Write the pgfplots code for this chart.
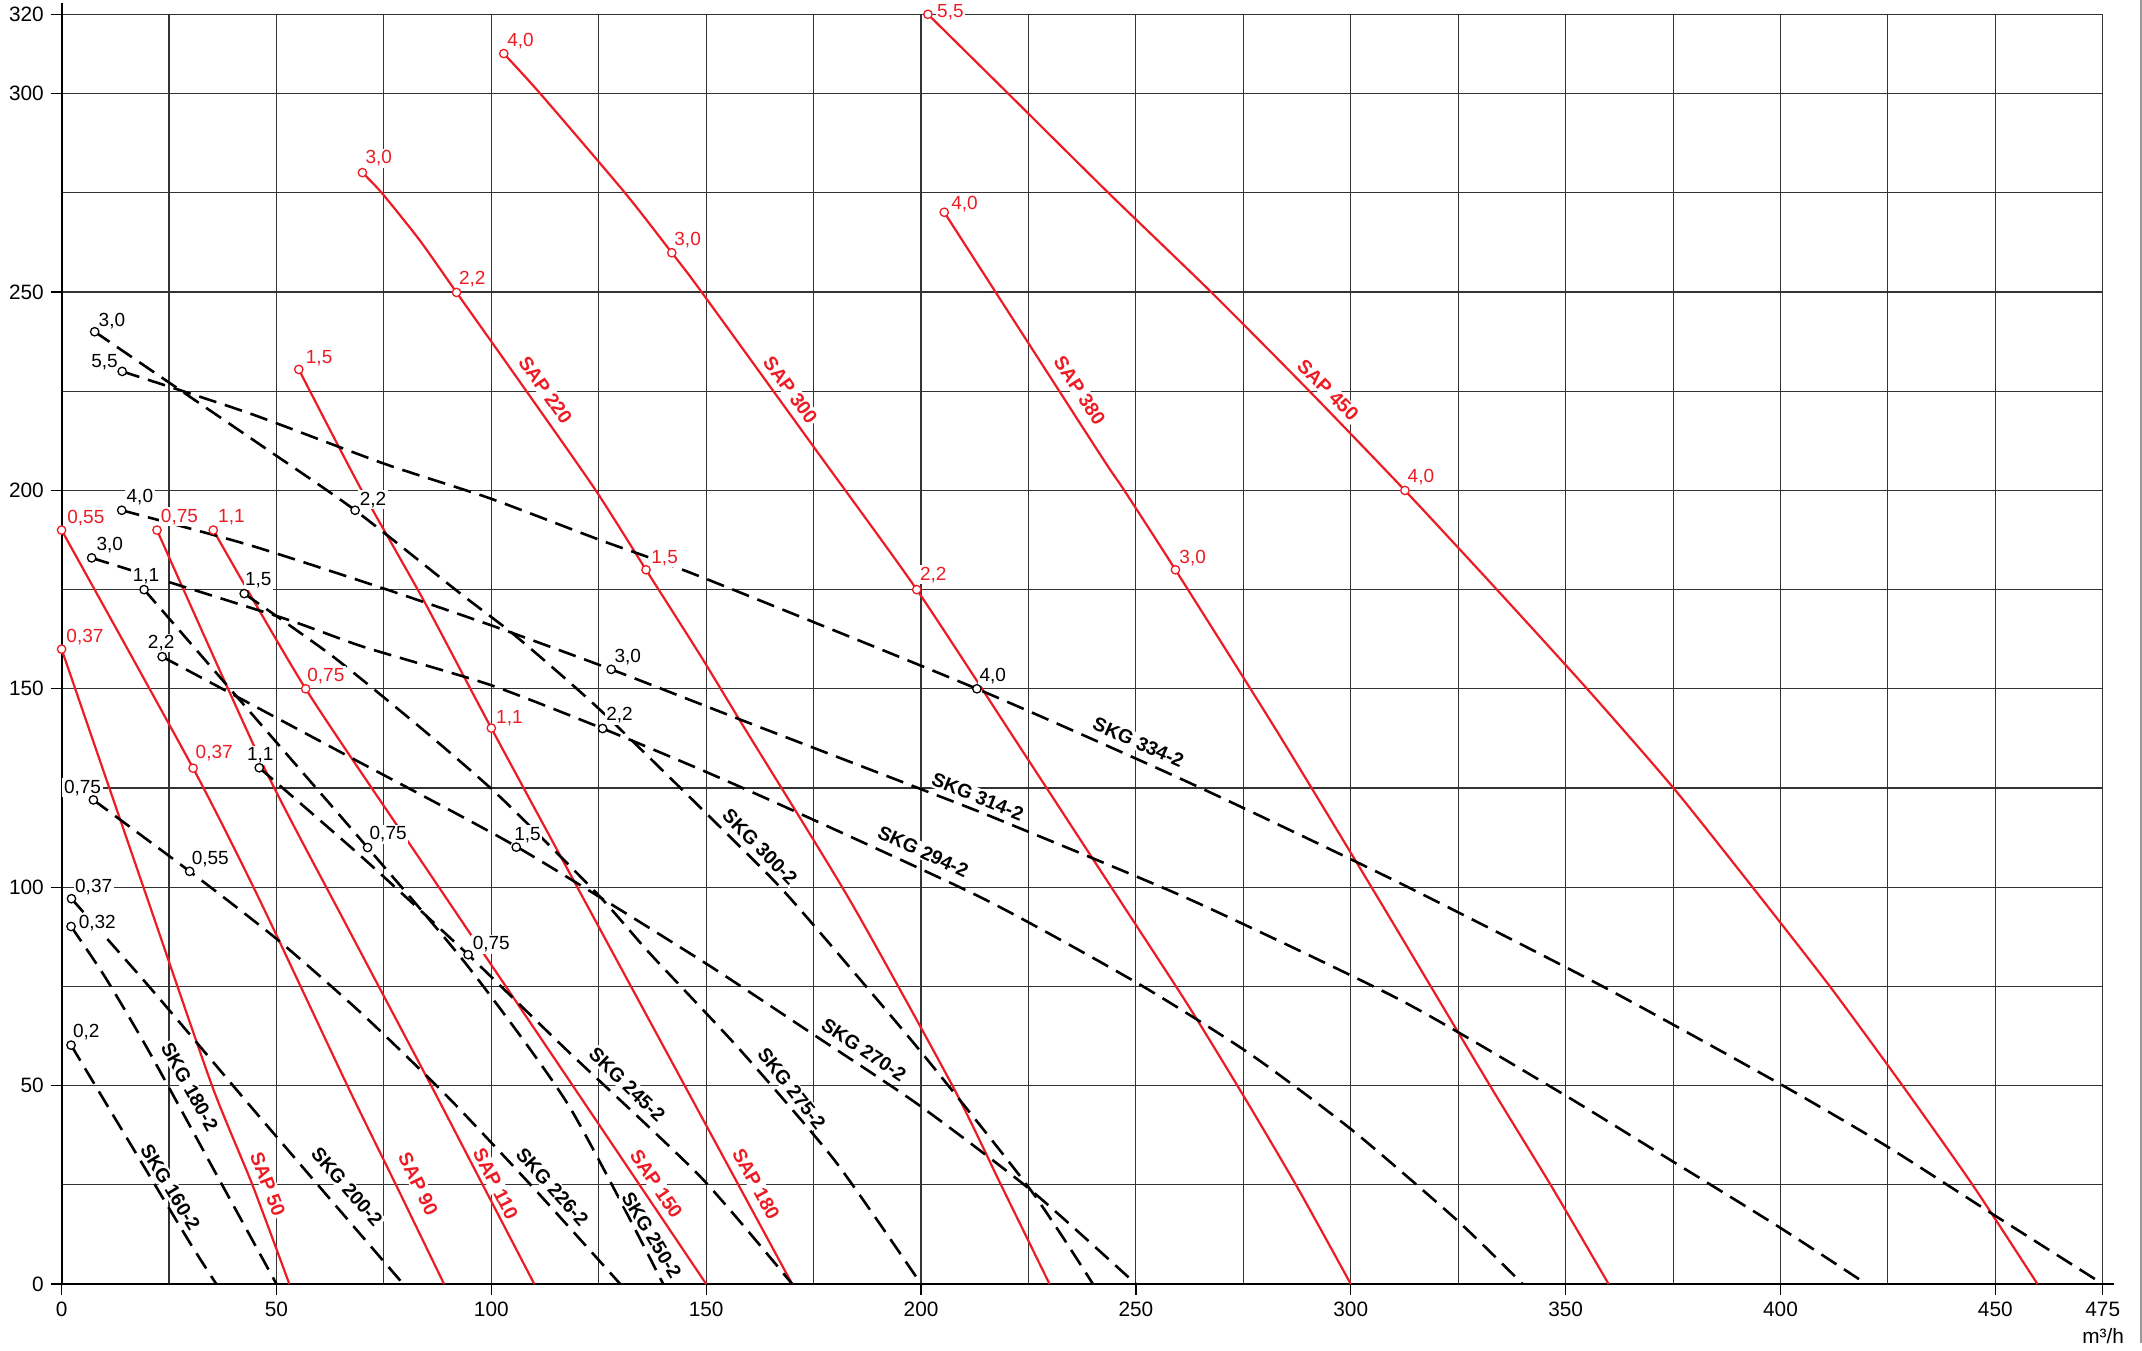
\documentclass[border=0pt]{standalone}
\usepackage{fontspec}
\setmainfont{Liberation Sans}
\usepackage{pgfplots}
\pgfplotsset{compat=1.18}
\definecolor{sapred}{HTML}{ED1C24}
\newcommand{\tf}{\fontsize{10.4}{12}\selectfont}
\newcommand{\lf}{\fontsize{9.5}{11}\selectfont}
\newcommand{\cf}{\fontsize{9.7}{11}\selectfont\bfseries}
\tikzset{
  ptl/.style={anchor=base west, inner sep=0.8pt, fill=white, font=\lf},
  cl/.style={font=\cf, fill=white, inner sep=0.8pt},
  sap/.style={sapred, line width=1.1pt, smooth, tension=0.4},
  skg/.style={black, line width=1.3pt, dash pattern=on 9pt off 4.5pt, smooth, tension=0.4},
}
\begin{document}
\begin{tikzpicture}
\begin{axis}[
  at={(0pt,0pt)}, anchor=south west,
  scale only axis, width=1020.55pt, height=634.85pt,
  xmin=0, xmax=475, ymin=0, ymax=320,
  clip=false,
  axis lines=left, axis line style={-, line width=1pt, black},
  xtick={0,50,...,450,475}, ytick={0,50,...,300,320},
  minor xtick={25,75,...,425}, minor ytick={25,75,...,275},
  grid=both,
  major grid style={black!80, line width=0.55pt},
  minor grid style={black!80, line width=0.55pt},
  tick align=outside, major tick length=5.4pt, minor tick length=0pt,
  tick style={black, line width=0.6pt},
  ticklabel style={font=\tf},
  /pgf/number format/assume math mode=true,
]
% ---- SAP (red) ----
\addplot[sap] coordinates {(0,160) (10,128.5) (20,97) (35,50) (44.4,25) (53,0)};
\addplot[sap] coordinates {(0,190) (30.6,130) (46,97) (66.5,50) (77.8,25) (89,0)};
\addplot[sap] coordinates {(22.2,190) (46.9,130.7) (66,91) (86,50) (98,25) (110,0)};
\addplot[sap] coordinates {(35.3,190) (56.8,150) (85,104.5) (113.6,58.6) (132,29) (150,0)};
\addplot[sap] coordinates {(55.2,230.5) (69.4,200.9) (84.2,172.4) (100,140.1) (135,70) (170,0)};
\addplot[sap] coordinates {(70,280.1) (74.5,275) (83.3,263.1) (91.9,249.9) (105.9,228.5) (124,200.5) (136,180) (148.6,158.5) (158.7,140.5) (183.4,96.8) (207.3,50) (218.6,25) (229.9,0)};
\addplot[sap] coordinates {(102.9,310.1) (111.4,300) (131.1,275) (142,259.9) (148.6,250.5) (175,211) (199,175) (222,137) (246.2,96.8) (262,70.5) (275,47.5) (287.5,24.5) (300,0)};
\addplot[sap] coordinates {(205.4,270.1) (241,210.2) (247.3,200) (259.2,180) (283,139) (306.5,97) (332.4,50) (346.5,25) (360,0)};
\addplot[sap] coordinates {(201.6,320) (220.3,300) (243.6,275) (267.5,250) (290.4,225) (312.6,200) (334,175) (355,150) (375.1,125) (393.5,100) (411.5,75) (428.4,50) (444.7,25) (459.8,0)};
% ---- SKG (black dashed) ----
\addplot[skg] coordinates {(2.2,60.2) (15.9,35.5) (29.8,10.5) (36,0)};
\addplot[skg] coordinates {(2.2,90.1) (10.1,77.4) (20.5,58.3) (37.6,24.5) (50,0)};
\addplot[skg] coordinates {(2.3,97.1) (20.5,74.8) (43.8,45) (62,22) (79.5,0)};
\addplot[skg] coordinates {(7.4,122) (29.8,104) (50,87) (70,68) (90,47) (110,24) (130,0)};
\addplot[skg] coordinates {(19.2,175) (46,141.5) (71.2,110) (94.6,80) (118,45) (140,0)};
\addplot[skg] coordinates {(46,130.1) (70,107.5) (94.6,83) (117.5,59) (148.6,27.1) (170,0)};
\addplot[skg] coordinates {(42.5,174) (63.2,158.1) (84.2,139.6) (102,122.8) (124.5,98.5) (136.9,83.3) (157.9,59) (180,31) (200,0)};
\addplot[skg] coordinates {(23.4,158.1) (65,134) (105.9,110.2) (148.6,81.7) (174.5,63.2) (199.5,45.1) (225.5,23.7) (250,0)};
\addplot[skg] coordinates {(7.7,240) (25,227.2) (48,210.2) (68.3,195) (92.7,174.1) (105.9,163.1) (125.3,144.7) (156.3,111.9) (169.9,96.8) (199,59.8) (225.5,23.7) (240,0)};
\addplot[skg] coordinates {(14.1,230) (43.8,219.4) (74.9,206.8) (99.7,198) (125.3,187.5) (148.6,178.3) (213,150) (262.9,126.1) (311.5,101) (358.8,74.9) (399.6,50.6) (424.9,34.6) (449.1,17.8) (475,0)};
\addplot[skg] coordinates {(14,195) (43.8,186.2) (74.9,175.3) (99.7,166.1) (127.9,154.9) (160.2,141.3) (200.5,124.5) (218.4,116.9) (262.8,96.8) (311.5,71.6) (347.8,48.9) (373.1,32.1) (399.6,14.4) (420,0)};
\addplot[skg] coordinates {(7,183) (51.6,167.8) (70.2,160.6) (99.7,151) (125.9,140) (150.1,129) (171.9,118.5) (215.1,96.8) (250.4,75.8) (276.4,58.1) (300.3,38.8) (324.7,16.1) (340,0)};
% ---- curve labels ----
\node[cl, text=sapred, rotate=-69] at (axis cs:48.0,25.2) {SAP 50};
\node[cl, text=sapred, rotate=-64] at (axis cs:83.0,25.2) {SAP 90};
\node[cl, text=sapred, rotate=-63] at (axis cs:101.0,25.2) {SAP 110};
\node[cl, text=sapred, rotate=-56] at (axis cs:138.4,25.2) {SAP 150};
\node[cl, text=sapred, rotate=-61.5] at (axis cs:161.6,25.2) {SAP 180};
\node[cl, text=sapred, rotate=-55] at (axis cs:112.6,225.3) {SAP 220};
\node[cl, text=sapred, rotate=-54] at (axis cs:169.6,225.3) {SAP 300};
\node[cl, text=sapred, rotate=-57] at (axis cs:236.9,225.2) {SAP 380};
\node[cl, text=sapred, rotate=-45] at (axis cs:294.7,225.3) {SAP 450};
\node[cl, rotate=-59] at (axis cs:25.3,24.4) {SKG 160-2};
\node[cl, rotate=-61] at (axis cs:29.8,49.7) {SKG 180-2};
\node[cl, rotate=-49] at (axis cs:66.4,24.5) {SKG 200-2};
\node[cl, rotate=-48] at (axis cs:114.2,24.5) {SKG 226-2};
\node[cl, rotate=-59] at (axis cs:137.3,12.3) {SKG 250-2};
\node[cl, rotate=-44] at (axis cs:131.6,50.2) {SKG 245-2};
\node[cl, rotate=-52] at (axis cs:169.9,49.3) {SKG 275-2};
\node[cl, rotate=-34] at (axis cs:186.7,59.0) {SKG 270-2};
\node[cl, rotate=-45.5] at (axis cs:162.5,110.2) {SKG 300-2};
\node[cl, rotate=-25] at (axis cs:200.5,109.0) {SKG 294-2};
\node[cl, rotate=-22] at (axis cs:213.2,122.8) {SKG 314-2};
\node[cl, rotate=-24] at (axis cs:250.6,136.5) {SKG 334-2};
% ---- point labels red ----
\node[ptl, text=sapred, xshift=1.45pt, yshift=3.35pt] at (axis cs:0,160) {0,37};
\node[ptl, text=sapred, xshift=1.9pt, yshift=3.35pt] at (axis cs:0,190) {0,55};
\node[ptl, text=sapred, xshift=0.3pt, yshift=4.65pt] at (axis cs:30.6,130) {0,37};
\node[ptl, text=sapred, xshift=1pt, yshift=4pt] at (axis cs:22.2,190) {0,75};
\node[ptl, text=sapred, xshift=1.45pt, yshift=4pt] at (axis cs:35.3,190) {1,1};
\node[ptl, text=sapred, xshift=-0.15pt, yshift=3.85pt] at (axis cs:56.8,150) {0,75};
\node[ptl, text=sapred, xshift=2.55pt, yshift=3pt] at (axis cs:55.2,230.5) {1,5};
\node[ptl, text=sapred, xshift=1.45pt, yshift=2.5pt] at (axis cs:100,140.1) {1,1};
\node[ptl, text=sapred, xshift=0.55pt, yshift=4.35pt] at (axis cs:70,280.1) {3,0};
\node[ptl, text=sapred, xshift=0.3pt, yshift=4.15pt] at (axis cs:91.9,249.9) {2,2};
\node[ptl, text=sapred, xshift=1.7pt, yshift=3.35pt] at (axis cs:136,180) {1,5};
\node[ptl, text=sapred, xshift=0.75pt, yshift=3.35pt] at (axis cs:102.9,310.1) {4,0};
\node[ptl, text=sapred, xshift=0.3pt, yshift=3.85pt] at (axis cs:142,259.9) {3,0};
\node[ptl, text=sapred, xshift=0.7pt, yshift=4.65pt] at (axis cs:199,175) {2,2};
\node[ptl, text=sapred, xshift=2.55pt, yshift=1.15pt] at (axis cs:205.4,270.1) {4,0};
\node[ptl, text=sapred, xshift=1pt, yshift=3.35pt] at (axis cs:259.2,180) {3,0};
\node[ptl, text=sapred, xshift=3.65pt, yshift=-1.5pt] at (axis cs:201.6,320) {5,5};
\node[ptl, text=sapred, xshift=0.4pt, yshift=4pt] at (axis cs:312.6,200) {4,0};
% ---- point labels black ----
\node[ptl, xshift=1pt, yshift=2.85pt] at (axis cs:7.7,240) {3,0};
\node[ptl, anchor=base east, xshift=-1.2pt, yshift=1.85pt] at (axis cs:14.1,230) {5,5};
\node[ptl, xshift=1.35pt, yshift=2.5pt] at (axis cs:68.3,195) {2,2};
\node[ptl, xshift=1.45pt, yshift=4pt] at (axis cs:14,195) {4,0};
\node[ptl, xshift=1.45pt, yshift=3.65pt] at (axis cs:7,183) {3,0};
\node[ptl, anchor=base, xshift=1pt, yshift=4.15pt] at (axis cs:19.2,175) {1,1};
\node[ptl, xshift=-0.55pt, yshift=4pt] at (axis cs:42.5,174) {1,5};
\node[ptl, anchor=base, xshift=-0.5pt, yshift=4.15pt] at (axis cs:23.4,158.1) {2,2};
\node[ptl, xshift=0.7pt, yshift=3.35pt] at (axis cs:127.9,154.9) {3,0};
\node[ptl, xshift=0.85pt, yshift=3.85pt] at (axis cs:125.9,140) {2,2};
\node[ptl, xshift=0.3pt, yshift=3.65pt] at (axis cs:213,150) {4,0};
\node[ptl, anchor=base east, xshift=4.8pt, yshift=3.35pt] at (axis cs:7.4,122) {0,75};
\node[ptl, anchor=base, xshift=0.5pt, yshift=3.65pt] at (axis cs:46,130.1) {1,1};
\node[ptl, xshift=0.05pt, yshift=3.85pt] at (axis cs:71.2,110) {0,75};
\node[ptl, xshift=-1.95pt, yshift=3.5pt] at (axis cs:105.8,110.1) {1,5};
\node[ptl, xshift=0.05pt, yshift=3.5pt] at (axis cs:29.8,104) {0,55};
\node[ptl, xshift=0.85pt, yshift=3pt] at (axis cs:2.3,97.1) {0,37};
\node[ptl, xshift=2.85pt, yshift=-1pt] at (axis cs:2.2,90.1) {0,32};
\node[ptl, xshift=1.35pt, yshift=2.5pt] at (axis cs:94.6,83) {0,75};
\node[ptl, xshift=0.05pt, yshift=3.85pt] at (axis cs:2.2,60.2) {0,2};
% ---- axis extensions and unit ----
\draw[line width=1pt] (axis cs:0,320) -- (axis cs:0,322.8);
\draw[line width=1pt] (axis cs:475,0) -- (axis cs:477.5,0);
\node[anchor=east, font=\tf, inner sep=0pt] at (axis cs:480,-13.1) {m³/h};
% ---- marks ----
\addplot[only marks, mark=*, mark size=2.1pt, mark options={draw=sapred, fill=white, line width=0.65pt}] coordinates {
(0,160) (0,190) (30.6,130) (22.2,190) (35.3,190) (56.8,150) (55.2,230.5) (100,140.1) (70,280.1) (91.9,249.9) (136,180) (102.9,310.1) (142,259.9) (199,175) (205.4,270.1) (259.2,180) (201.6,320) (312.6,200)};
\addplot[only marks, mark=*, mark size=2.1pt, mark options={draw=black, fill=white, line width=0.65pt}] coordinates {
(7.7,240) (14.1,230) (68.3,195) (14,195) (7,183) (19.2,175) (42.5,174) (23.4,158.1) (127.9,154.9) (125.9,140) (213,150) (7.4,122) (46,130.1) (71.2,110) (105.8,110.1) (29.8,104) (2.3,97.1) (2.2,90.1) (94.6,83) (2.2,60.2)};
\end{axis}
\draw[black!40, line width=0.9pt] (1039.5pt,-29.5pt) -- (1039.5pt,642pt);
\pgfresetboundingbox
\path (-30.8pt,-33pt) rectangle (1040.2pt,642pt);
\end{tikzpicture}
\end{document}
